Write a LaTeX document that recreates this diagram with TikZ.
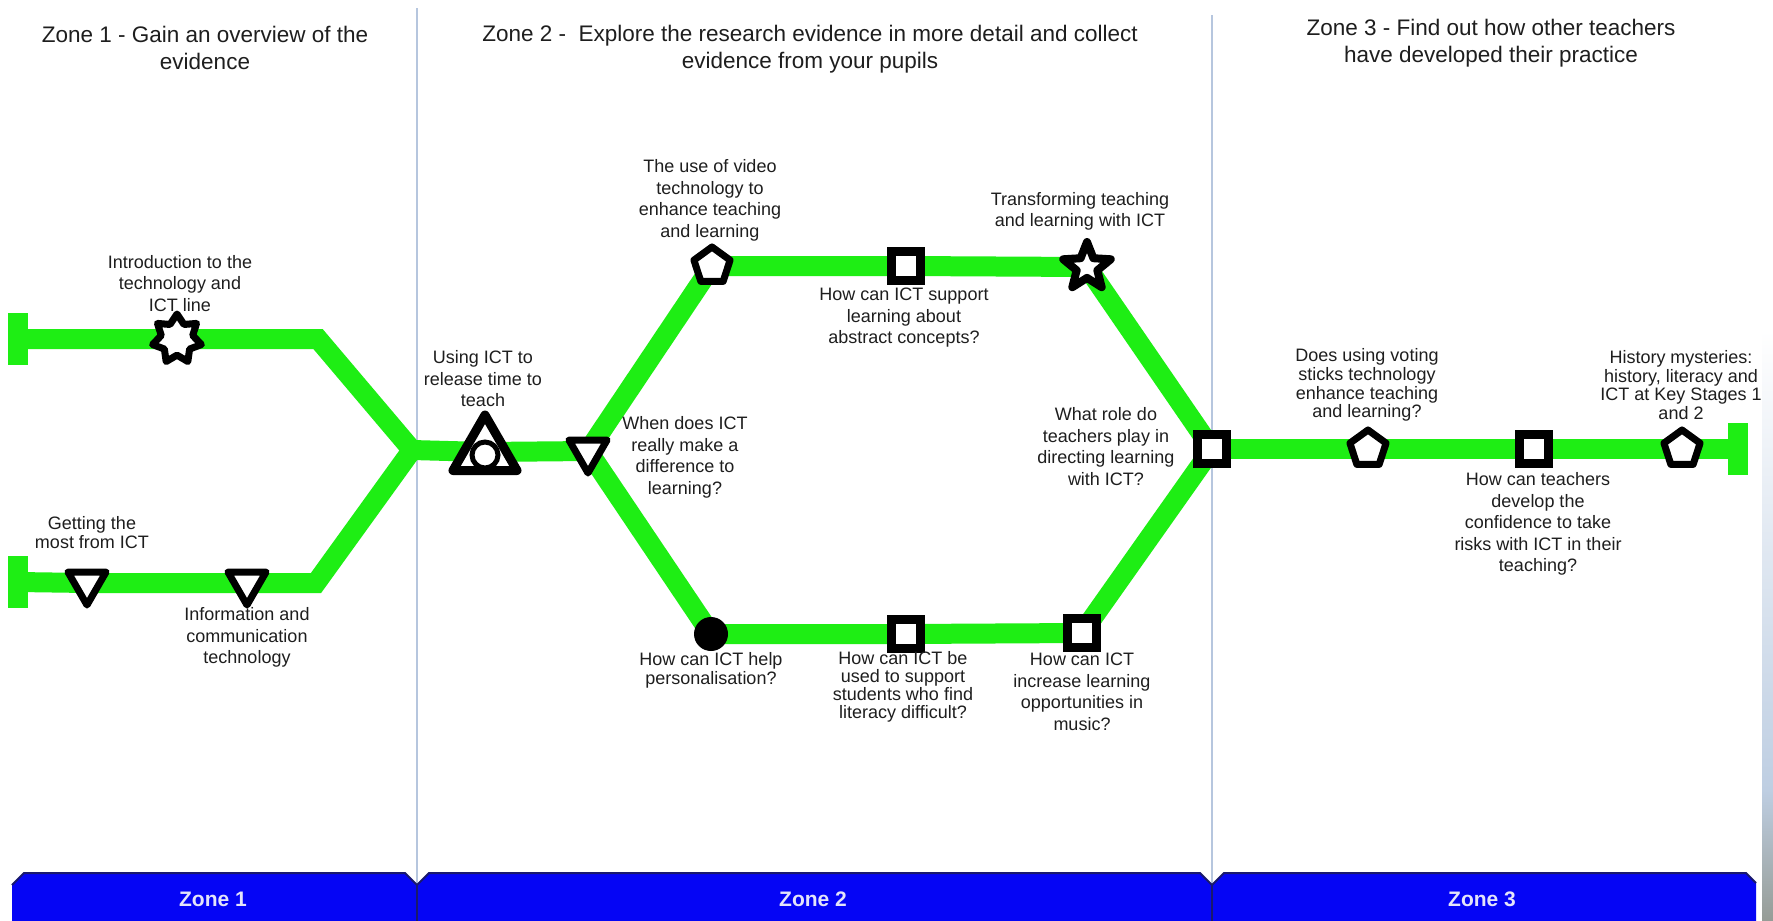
\documentclass[tikz,border=0pt]{standalone}
\usepackage{fontspec}
\setmainfont{Liberation Sans}
\usetikzlibrary{shapes.geometric,backgrounds}
\definecolor{track}{RGB}{30,238,20}
\definecolor{barblue}{RGB}{5,5,245}
\definecolor{navy}{RGB}{25,25,110}
\definecolor{divider}{RGB}{182,198,222}
\definecolor{txt}{RGB}{30,30,30}
\definecolor{bartext}{RGB}{228,228,250}
\definecolor{stripblue}{RGB}{190,206,226}
\definecolor{rock}{RGB}{150,156,150}
\begin{document}
\begin{tikzpicture}[x=1pt,y=-1pt,
  tracksty/.style={draw=track, line width=20pt, line join=miter},
  capsty/.style={rectangle, fill=track, minimum width=20pt, minimum height=52pt, inner sep=0pt},
  lbl/.style={align=center, text=txt, font=\fontsize{18}{21.5}\selectfont, inner sep=0pt},
  lbltight/.style={lbl, font=\fontsize{18}{19}\selectfont},
  hdr/.style={align=center, text=txt, font=\fontsize{22.5}{27}\selectfont, inner sep=0pt},
  bartxt/.style={text=bartext, font=\fontsize{21}{24}\selectfont\bfseries, inner sep=0pt},
  sqsty/.style={rectangle, draw=black, fill=white, line width=9pt, minimum size=29pt, inner sep=0pt},
  pentsty/.style={regular polygon, regular polygon sides=5, draw=black, fill=white, line width=7pt, line join=round, minimum size=38pt, inner sep=0pt},
  tridown/.style={regular polygon, regular polygon sides=3, shape border rotate=180, draw=black, fill=white, line width=7pt, line join=round, minimum size=44pt, inner sep=0pt},
  triup/.style={regular polygon, regular polygon sides=3, draw=black, fill=white, line width=9pt, line join=round, minimum size=74pt, inner sep=0pt},
  ringsty/.style={circle, draw=black, fill=white, line width=5pt, minimum size=26pt, inner sep=0pt},
  dotsty/.style={circle, fill=black, minimum size=34pt, inner sep=0pt},
  starseven/.style={star, star points=7, star point ratio=1.55, draw=black, fill=white, line width=7pt, line join=round, minimum size=50pt, inner sep=0pt},
  starfive/.style={star, star points=5, star point ratio=2.3, draw=black, fill=white, line width=8pt, line join=round, minimum size=50pt, inner sep=0pt},
  divsty/.style={draw=divider, line width=2pt}
]
\useasboundingbox (0,0) rectangle (1773,921);

% headers
\node[hdr] (h1) at (205,47.5) {Zone 1 - Gain an overview of the\\evidence};
\node[hdr] (h2) at (810,49.5) {Zone 2 -\ \ Explore the research evidence in more detail and collect\\evidence from your pupils};
\node[hdr] (h3) at (1491,43) {Zone 3 - Find out how other teachers\\have developed their practice};

% track coordinates
\coordinate (bT) at (318,339);
\coordinate (bB) at (316,583);
\coordinate (J) at (412,450);

% caps
\node[capsty] (capT) at (18,339) {};
\node[capsty] (capB) at (18,582) {};
\node[capsty] (capR) at (1738,449) {};

% zone 1 stations
\node[starseven] (st7) at (177,339) {};
\node[tridown] (td1) at (87,583) {};
\node[tridown] (td2) at (247,583) {};

% zone 2 stations
\node[triup] (tc) at (485,452) {};
\node[ringsty] (ring) at (485,455) {};
\node[tridown] (S) at (588,451) {};
\node[pentsty] (pt) at (712,266) {};
\node[sqsty] (sqA) at (906,266) {};
\node[starfive] (st5) at (1087,267) {};
\node[sqsty] (R) at (1212,449) {};
\node[dotsty] (dot) at (711,634) {};
\node[sqsty] (sqB) at (906,634) {};
\node[sqsty] (sqC) at (1082,633) {};

% zone 3 stations
\node[pentsty] (p3a) at (1368,449) {};
\node[sqsty] (sqD) at (1534,449) {};
\node[pentsty] (p3b) at (1682,449) {};

% background, dividers and tracks (behind stations)
\begin{scope}[on background layer]
\fill[white] (0,0) rectangle (1773,921);
\shade[top color=white, bottom color=stripblue] (1762,330) rectangle (1773,790);
\shade[top color=stripblue, bottom color=rock] (1762,790) rectangle (1773,921);
\draw[divsty] (417,8) -- (417,885);
\draw[divsty] (1212,15) -- (1212,885);
\draw[tracksty] (capT.center) -- (st7.center) -- (bT) -- (J);
\draw[tracksty] (capB.center) -- (td1.center) -- (td2.center) -- (bB) -- (J);
\draw[tracksty] (J) -- (tc.center) -- (S.center);
\draw[tracksty] (S.center) -- (pt.center) -- (sqA.center) -- (st5.center) -- (R.center);
\draw[tracksty] (S.center) -- (dot.center) -- (sqB.center) -- (sqC.center) -- (R.center);
\draw[tracksty] (R.center) -- (p3a.center) -- (sqD.center) -- (p3b.center) -- (capR.center);
\end{scope}

% labels zone 1
\node[lbl] (l1) at (180,283.5) {Introduction to the\\technology and\\ICT line};
\node[lbltight] (l2) at (92,532.5) {Getting the\\most from ICT};
\node[lbl] (l3) at (247,637.5) {Information and\\communication\\technology};

% labels zone 2
\node[lbl] (l4) at (483,379) {Using ICT to\\release time to\\teach};
\node[lbl] (l5) at (710,200.5) {The use of video\\technology to\\enhance teaching\\and learning};
\node[lbl] (l6) at (685,457.5) {When does ICT\\really make a\\difference to\\learning?};
\node[lbl] (l7) at (904,318) {How can ICT support\\learning about\\abstract concepts?};
\node[lbl] (l8) at (1080,211.5) {Transforming teaching\\and learning with ICT};
\node[lbl] (l9) at (1106,446.5) {What role do\\teachers play in\\directing learning\\with ICT?};
\node[lbltight] (l10) at (711,670) {How can ICT help\\personalisation?};
\node[lbl, font=\fontsize{18}{18}\selectfont] (l11) at (903,687) {How can ICT be\\used to support\\students who find\\literacy difficult?};
\node[lbl] (l12) at (1082,692) {How can ICT\\increase learning\\opportunities in\\music?};

% labels zone 3
\node[lbl, font=\fontsize{18}{18.7}\selectfont] (l13) at (1367,385) {Does using voting\\sticks technology\\enhance teaching\\and learning?};
\node[lbl] (l14) at (1538,524) {How can teachers\\develop the\\confidence to take\\risks with ICT in their\\teaching?};
\node[lbl, font=\fontsize{18}{18.7}\selectfont] (l15) at (1681,385) {History mysteries:\\history, literacy and\\ICT at Key Stages 1\\and 2};

% bottom zone bar
\fill[barblue] (12,921) -- (12,885) -- (24,873) -- (405,873) -- (417,885) -- (429,873) -- (1200,873) -- (1212,885) -- (1224,873) -- (1746,873) -- (1756,883) -- (1756,921) -- cycle;
\draw[navy, line width=2pt] (12,885) -- (24,873) -- (405,873) -- (417,885) -- (429,873) -- (1200,873) -- (1212,885) -- (1224,873) -- (1746,873) -- (1756,883);
\draw[navy, line width=1.5pt] (417,885) -- (417,921);
\draw[navy, line width=1.5pt] (1212,885) -- (1212,921);
\node[bartxt] (z1) at (213,899) {Zone 1};
\node[bartxt] (z2) at (813,899) {Zone 2};
\node[bartxt] (z3) at (1482,899) {Zone 3};
\end{tikzpicture}
\end{document}
